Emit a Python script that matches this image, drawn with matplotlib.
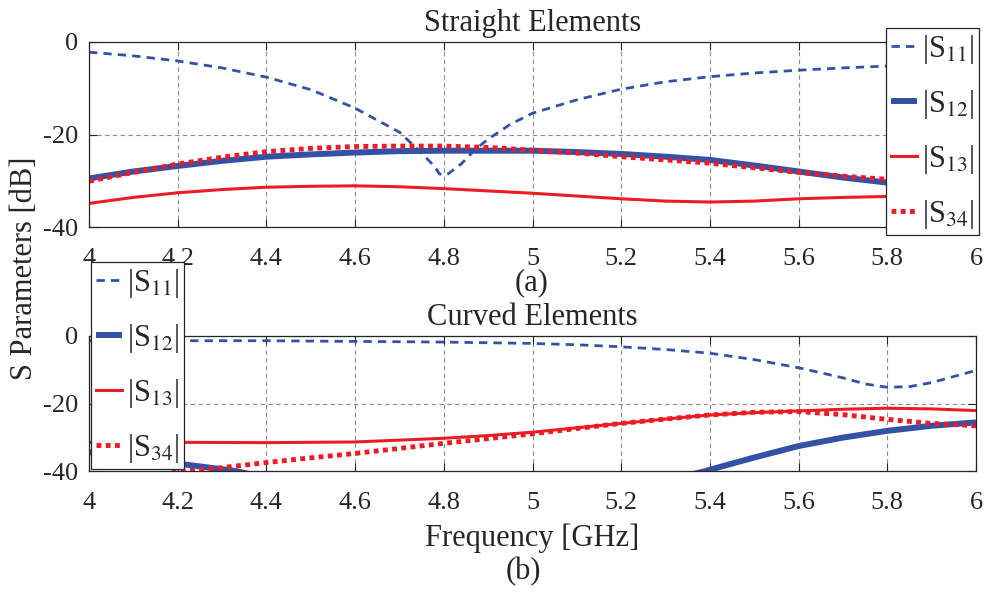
import matplotlib
matplotlib.use('Agg')
import matplotlib.pyplot as plt
import numpy as np

plt.rcParams['font.family'] = ['Liberation Serif', 'DejaVu Serif']
plt.rcParams['mathtext.fontset'] = 'stix'
plt.rcParams['axes.unicode_minus'] = False

# Straight elements (a)
f_a = [4.0, 4.1, 4.2, 4.3, 4.4, 4.5, 4.6, 4.7, 4.8, 4.9, 5.0,
       5.1, 5.2, 5.3, 5.4, 5.5, 5.6, 5.7, 5.8, 5.9, 6.0]
f_a_s11 = [4.0, 4.1, 4.2, 4.3, 4.4, 4.5, 4.6, 4.7, 4.75, 4.78, 4.79, 4.8, 4.81, 4.84,
           4.87, 4.9, 4.95, 5.0, 5.1, 5.2, 5.3, 5.4, 5.5, 5.6, 5.7, 5.8, 5.9, 6.0]
s11_a = [-2.2, -3.0, -4.1, -5.6, -7.6, -10.3, -14.3, -19.5, -24.0, -27.0, -28.5, -28.8, -28.5, -26.3,
         -23.3, -21.0, -17.8, -15.4, -12.5, -10.2, -8.6, -7.5, -6.7, -6.1, -5.6, -5.2, -4.9, -4.6]
s12_a = [-29.5, -28.0, -26.8, -25.7, -24.8, -24.3, -23.9, -23.6, -23.5, -23.5, -23.5,
         -23.8, -24.2, -24.8, -25.5, -26.7, -28.0, -29.3, -30.4, -31.3, -32.1]
s13_a = [-34.9, -33.6, -32.6, -31.9, -31.4, -31.2, -31.1, -31.3, -31.7, -32.2, -32.7,
         -33.3, -33.9, -34.4, -34.6, -34.4, -33.9, -33.6, -33.4, -33.6, -34.1]
s34_a = [-30.1, -28.2, -26.4, -24.9, -23.7, -23.0, -22.6, -22.5, -22.5, -22.8, -23.4,
         -24.0, -24.8, -25.5, -26.2, -27.2, -28.2, -29.0, -29.7, -30.3, -31.0]

# Curved elements (b)
f_b_s11 = [4.0, 4.2, 4.4, 4.6, 4.8, 5.0, 5.1, 5.2, 5.3, 5.4, 5.5, 5.6, 5.7, 5.75, 5.8, 5.85, 5.9, 6.0]
s11_b = [-1.4, -1.4, -1.4, -1.6, -1.8, -2.2, -2.6, -3.2, -4.0, -5.1, -7.0, -9.4, -12.4, -14.2, -15.2, -15.0, -13.8, -10.2]
f_b_s12 = [4.0, 4.1, 4.2, 4.33, 4.4, 4.8, 5.3, 5.39, 5.45, 5.5, 5.6, 5.7, 5.8, 5.9, 6.0]
s12_b = [-34.4, -36.2, -37.8, -40.0, -42.0, -45.0, -43.0, -40.0, -37.8, -36.0, -32.6, -30.1, -28.1, -26.6, -25.6]
f_b = [4.0, 4.2, 4.4, 4.6, 4.8, 4.9, 5.0, 5.1, 5.2, 5.3, 5.4, 5.5, 5.6, 5.7, 5.8, 5.9, 6.0]
s13_b = [-31.5, -31.5, -31.6, -31.4, -30.3, -29.5, -28.5, -27.2, -25.9, -24.6, -23.4, -22.7, -22.2, -21.7, -21.4, -21.6, -22.1]
f_b_s34 = [4.0, 4.1, 4.2, 4.22, 4.3, 4.4, 4.5, 4.6, 4.7, 4.8, 4.9, 5.0,
           5.1, 5.2, 5.3, 5.4, 5.5, 5.6, 5.7, 5.8, 5.9, 6.0]
s34_b = [-43.0, -41.8, -40.3, -40.0, -39.0, -37.5, -36.1, -34.8, -33.3, -31.8, -30.4, -29.0,
         -27.4, -25.9, -24.6, -23.4, -22.6, -22.4, -23.3, -24.7, -25.9, -26.6]

labels = ['|S$_{11}$|', '|S$_{12}$|', '|S$_{13}$|', '|S$_{34}$|']
xticks = [4, 4.2, 4.4, 4.6, 4.8, 5, 5.2, 5.4, 5.6, 5.8, 6]
xticklabels = ['4', '4.2', '4.4', '4.6', '4.8', '5', '5.2', '5.4', '5.6', '5.8', '6']

blue = '#3452A5'
red = '#ED1C24'
txt = '#262626'


def draw(ax, data, title):
    (x11, y11), (x12, y12), (x13, y13), (x34, y34) = data
    ax.plot(x11, y11, color=blue, lw=2.0, dashes=(3, 2.2), label=labels[0])
    ax.plot(x12, y12, color=blue, lw=4.3, solid_capstyle='butt', label=labels[1])
    ax.plot(x13, y13, color=red, lw=2.2, label=labels[2])
    ax.plot(x34, y34, color=red, lw=3.5, dashes=(1, 0.9), dash_capstyle='butt', label=labels[3])
    ax.set_xlim(4, 6)
    ax.set_ylim(-40, 0)
    ax.set_xticks(xticks)
    ax.set_xticklabels(xticklabels)
    ax.set_yticks([-40, -20, 0])
    ax.grid(True, color='#8c8c8c', lw=0.8, dashes=(4, 3))
    ax.tick_params(direction='in', top=True, right=True, length=6, width=0.8,
                   labelsize=19, colors=txt)
    ax.tick_params(axis='x', pad=15)
    ax.tick_params(axis='y', pad=8)
    for s in ax.spines.values():
        s.set_color(txt)
        s.set_linewidth(0.9)
    ax.set_title(title, fontsize=22, color=txt, pad=8)


fig = plt.figure(figsize=(9.86, 5.92), dpi=100)
ax1 = fig.add_axes([89/986, 1-227/592, 887/986, 185/592])
ax2 = fig.add_axes([89/986, 1-471/592, 887/986, 135/592])

draw(ax1, [(f_a_s11, s11_a), (f_a, s12_a), (f_a, s13_a), (f_a, s34_a)], 'Straight Elements')
draw(ax2, [(f_b_s11, s11_b), (f_b_s12, s12_b), (f_b, s13_b), (f_b_s34, s34_b)], 'Curved Elements')

for ax, anchor in [(ax1, (886/986, 1-28/592)), (ax2, (91/986, 1-262/592))]:
    leg = ax.legend(loc='upper left', bbox_to_anchor=anchor, bbox_transform=fig.transFigure,
                    borderaxespad=0, fontsize=22, handlelength=0.88, handletextpad=0.15,
                    labelspacing=0.72, borderpad=0.15, fancybox=False, framealpha=1)
    leg.get_frame().set_edgecolor(txt)
    leg.get_frame().set_linewidth(0.9)
    for t in leg.get_texts():
        t.set_color(txt)

fig.text(532/986, 1-283/592, '(a)', ha='center', va='center', fontsize=22, color=txt)
fig.text(532/986, 1-538/592, 'Frequency [GHz]', ha='center', va='center', fontsize=22, color=txt)
fig.text(523/986, 1-572/592, '(b)', ha='center', va='center', fontsize=22, color=txt)
fig.text(25/986, 1-268/592, 'S Parameters [dB]', rotation=90, ha='center', va='center',
         fontsize=22, color=txt)

fig.savefig('out.png', dpi=100)
